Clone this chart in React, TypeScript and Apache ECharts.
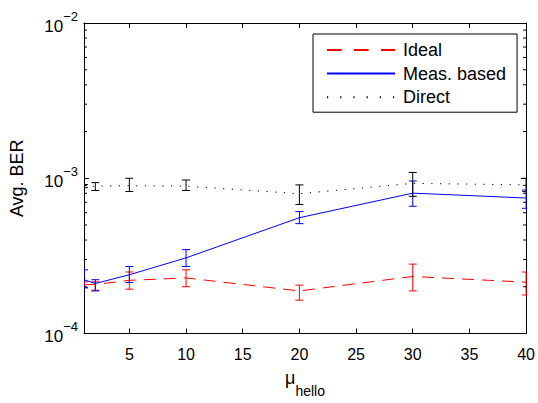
import React, { useEffect, useRef } from "react";
import * as echarts from "echarts";

const xValues = [1, 2, 5, 10, 20, 30, 40];

const idealMean = [2.06e-4, 2.07e-4, 2.2e-4, 2.28e-4, 1.88e-4, 2.33e-4, 2.14e-4];
const idealLow = [1.97e-4, 1.9e-4, 1.93e-4, 2.0e-4, 1.64e-4, 1.88e-4, 1.77e-4];
const idealHigh = [2.15e-4, 2.15e-4, 2.49e-4, 2.57e-4, 2.05e-4, 2.8e-4, 2.49e-4];

const measMean = [2.22e-4, 2.1e-4, 2.39e-4, 3.07e-4, 5.57e-4, 8.02e-4, 7.46e-4];
const measLow = [1.97e-4, 1.88e-4, 2.13e-4, 2.7e-4, 5.1e-4, 6.6e-4, 6.4e-4];
const measHigh = [2.57e-4, 2.22e-4, 2.7e-4, 3.47e-4, 6.1e-4, 9.6e-4, 8.4e-4];

const directMean = [8.9e-4, 8.9e-4, 8.95e-4, 8.9e-4, 7.95e-4, 9.27e-4, 9.06e-4];
const directLow = [8.7e-4, 8.34e-4, 8.22e-4, 8.34e-4, 6.78e-4, 7.65e-4, 8.2e-4];
const directHigh = [9.1e-4, 9.37e-4, 1.0e-3, 9.74e-4, 9.06e-4, 1.09e-3, 1.0e-3];

const seriesNames = ["Ideal", "Meas. based", "Direct"];
const xTickValues = [5, 10, 15, 20, 25, 30, 35, 40];
const minorMultipliers = [2, 3, 4, 5, 6, 7, 8, 9];
const decadeStarts = [1e-4, 1e-3];

const X_MIN = 1;
const X_MAX = 40;
const Y_MIN = 1e-4;
const Y_MAX = 1e-2;

const FONT = "'Liberation Sans', Arial, Helvetica, sans-serif";

function pairs(xs: number[], ys: number[]) {
  return xs.map((x, i) => [x, ys[i]]);
}
function triples(xs: number[], lo: number[], hi: number[]) {
  return xs.map((x, i) => [x, lo[i], hi[i]]);
}

function errorBarSeries(name: string, data: number[][], color: string) {
  return {
    type: "custom",
    name: name + " err",
    coordinateSystem: "cartesian2d",
    clip: true,
    silent: true,
    encode: { x: 0, y: [1, 2] },
    data,
    z: 3,
    renderItem: (params: any, api: any) => {
      const x = api.value(0);
      const lo = api.value(1);
      const hi = api.value(2);
      const pLo = api.coord([x, lo]);
      const pHi = api.coord([x, hi]);
      const w = 4;
      const style = { stroke: color, lineWidth: 1, fill: "none" };
      return {
        type: "group",
        children: [
          { type: "line", shape: { x1: pLo[0], y1: pLo[1], x2: pHi[0], y2: pHi[1] }, style },
          { type: "line", shape: { x1: pLo[0] - w, y1: pLo[1], x2: pLo[0] + w, y2: pLo[1] }, style },
          { type: "line", shape: { x1: pHi[0] - w, y1: pHi[1], x2: pHi[0] + w, y2: pHi[1] }, style },
        ],
      };
    },
  };
}

export default function App() {
  const ref = useRef<HTMLDivElement>(null);

  useEffect(() => {
    if (!ref.current) return;
    const chart = echarts.init(ref.current, null, { renderer: "svg" });

    const minorTickValues: number[] = [];
    decadeStarts.forEach((d) => minorMultipliers.forEach((m) => minorTickValues.push(d * m)));

    const yLabelRich = {
      b: { fontSize: 17, fontFamily: FONT, color: "#000", padding: [0, 0, 2, 0], verticalAlign: "bottom" },
      e: { fontSize: 13, fontFamily: FONT, color: "#000", padding: [0, 0, 14, 0], verticalAlign: "bottom" },
    };

    const option: any = {
      animation: false,
      backgroundColor: "#fff",
      textStyle: { fontFamily: FONT },
      grid: { left: 84, right: 10, top: 23, bottom: 63, containLabel: false },
      legend: {
        data: [
          { name: seriesNames[0], lineStyle: { type: [14.5, 12.5] } },
          { name: seriesNames[1] },
          { name: seriesNames[2], lineStyle: { type: [1.2, 12] } },
        ],
        orient: "vertical",
        left: 313,
        top: 34,
        itemWidth: 68,
        itemHeight: 14,
        itemGap: 5.6,
        padding: [7, 11, 6, 13],
        borderColor: "#000",
        borderWidth: 1,
        backgroundColor: "#fff",
        selectedMode: false,
        itemStyle: { opacity: 0 },
        textStyle: { fontSize: 18, color: "#000", fontFamily: FONT, padding: [0, 0, 0, 3] },
      },
      xAxis: [
        {
          type: "value",
          min: X_MIN,
          max: X_MAX,
          position: "bottom",
          axisLine: { show: true, onZero: false, lineStyle: { color: "#000", width: 1 } },
          axisTick: { show: true, inside: true, length: 5, customValues: xTickValues, lineStyle: { color: "#000" } },
          axisLabel: { customValues: xTickValues, fontSize: 16, color: "#000", margin: 13, fontFamily: FONT },
          splitLine: { show: false },
          name: "{m|μ}{s|hello}",
          nameLocation: "middle",
          nameGap: 35,
          nameTextStyle: {
            rich: {
              m: { fontSize: 18, lineHeight: 18, fontFamily: FONT, color: "#000", verticalAlign: "top" },
              s: { fontSize: 14, lineHeight: 14, fontFamily: FONT, color: "#000", verticalAlign: "top", padding: [15.5, 0, 0, 0] },
            },
          },
        },
        {
          type: "value",
          min: X_MIN,
          max: X_MAX,
          position: "top",
          axisLine: { show: true, onZero: false, lineStyle: { color: "#000", width: 1 } },
          axisTick: { show: true, inside: true, length: 5, customValues: xTickValues, lineStyle: { color: "#000" } },
          axisLabel: { show: false },
          splitLine: { show: false },
        },
      ],
      yAxis: [
        {
          type: "log",
          logBase: 10,
          min: Y_MIN,
          max: Y_MAX,
          position: "left",
          axisLine: { show: true, onZero: false, lineStyle: { color: "#000", width: 1 } },
          axisTick: { show: true, inside: true, length: 5, lineStyle: { color: "#000" } },
          axisLabel: {
            margin: 6,
            formatter: (v: number) => {
              const ex = Math.round(Math.log10(v));
              return "{b|10}{e|" + (ex < 0 ? "\u2212" + -ex : String(ex)) + "}";
            },
            rich: yLabelRich,
          },
          splitLine: { show: false },
          name: "Avg. BER",
          nameLocation: "middle",
          nameGap: 58,
          nameTextStyle: { fontSize: 18, color: "#000", fontFamily: FONT },
        },
        {
          type: "log",
          logBase: 10,
          min: Y_MIN,
          max: Y_MAX,
          position: "right",
          axisLine: { show: true, onZero: false, lineStyle: { color: "#000", width: 1 } },
          axisTick: { show: true, inside: true, length: 5, lineStyle: { color: "#000" } },
          axisLabel: { show: false },
          splitLine: { show: false },
        },
      ],
      series: [
        {
          type: "line",
          name: seriesNames[0],
          data: pairs(xValues, idealMean),
          symbol: "none",
          color: "#ff0000",
          lineStyle: { color: "#ff0000", width: 1, type: [12, 8] },
          z: 4,
        },
        {
          type: "line",
          name: seriesNames[1],
          data: pairs(xValues, measMean),
          symbol: "none",
          color: "#0000ff",
          lineStyle: { color: "#0000ff", width: 1, type: "solid" },
          z: 4,
        },
        {
          type: "line",
          name: seriesNames[2],
          data: pairs(xValues, directMean),
          symbol: "none",
          color: "#000000",
          lineStyle: { color: "#000000", width: 1, type: [1.2, 7.5] },
          z: 4,
        },
        errorBarSeries(seriesNames[0], triples(xValues, idealLow, idealHigh), "#ff0000"),
        errorBarSeries(seriesNames[1], triples(xValues, measLow, measHigh), "#0000ff"),
        errorBarSeries(seriesNames[2], triples(xValues, directLow, directHigh), "#000000"),
        {
          type: "custom",
          name: "minor ticks",
          coordinateSystem: "cartesian2d",
          clip: false,
          silent: true,
          encode: { x: 0, y: 1 },
          data: minorTickValues.map((v) => [X_MIN, v]),
          z: 5,
          renderItem: (params: any, api: any) => {
            const v = api.value(1);
            const l = api.coord([X_MIN, v]);
            const r = api.coord([X_MAX, v]);
            const style = { stroke: "#000", lineWidth: 1 };
            return {
              type: "group",
              children: [
                { type: "line", shape: { x1: l[0], y1: l[1], x2: l[0] + 3, y2: l[1] }, style },
                { type: "line", shape: { x1: r[0] - 3, y1: r[1], x2: r[0], y2: r[1] }, style },
              ],
            };
          },
        },
      ],
    };

    chart.setOption(option);
    return () => chart.dispose();
  }, []);

  return (
    <div
      ref={ref}
      style={{ position: "absolute", left: 0, top: 0, width: 538, height: 403, background: "#fff" }}
    />
  );
}
